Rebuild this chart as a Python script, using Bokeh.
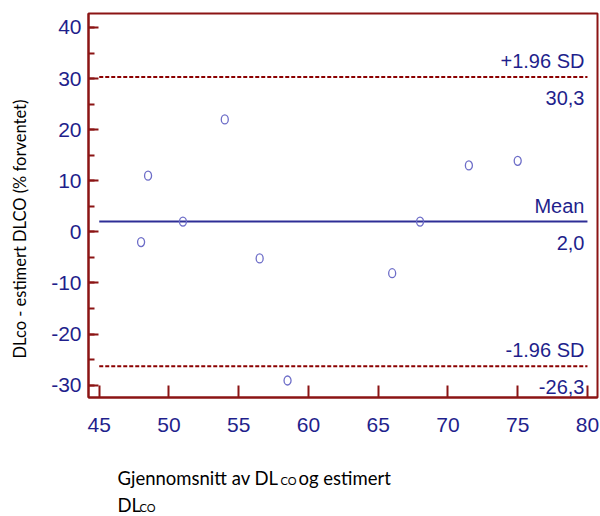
import math
from bokeh.plotting import figure
from bokeh.layouts import column, row
from bokeh.models import Range1d, SingleIntervalTicker, Label, PrintfTickFormatter
from bokeh.core.properties import value
from bokeh.embed import file_html
from bokeh.resources import INLINE

# ---- data ----
avg_vals = [48.0, 48.5, 51.0, 54.0, 56.5, 58.5, 66.0, 68.0, 71.5, 75.0]
diff_vals = [-2.0, 11.0, 2.0, 22.0, -5.2, -29.1, -8.1, 2.0, 13.0, 13.9]
mean_diff = 2.0
upper_loa = 30.3
lower_loa = -26.3
line_x = [45, 80]
x_ticks_interval = 5
y_ticks_interval = 10
y_title = "DLco - estimert DLCO (% forventet)"
x_title_parts = ["Gjennomsnitt av DL", "CO", "og estimert", "DL", "CO"]

AXIS_RED = "#8b1414"
NAVY = "#1f1f8c"
NUM_FONT = "Liberation Sans"
TXT_FONT = "Lato"

LEFT_W = 40
TOP_H = 440

# ---------------- main plot ----------------
p = figure(width=600 - LEFT_W, height=TOP_H, output_backend="svg", toolbar_location=None,
           x_range=Range1d(44.23, 80.72), y_range=Range1d(-32.43, 42.74),
           min_border_left=88 - LEFT_W, min_border_right=3, min_border_top=13,
           min_border_bottom=TOP_H - 397,
           background_fill_color="white", border_fill_color="white")

p.grid.visible = False
p.outline_line_color = AXIS_RED
p.outline_line_width = 2
p.outline_line_alpha = 1.0

p.xaxis.ticker = SingleIntervalTicker(interval=x_ticks_interval, num_minor_ticks=0)
p.yaxis.ticker = SingleIntervalTicker(interval=y_ticks_interval, num_minor_ticks=2)
for ax in (p.xaxis[0], p.yaxis[0]):
    ax.formatter = PrintfTickFormatter(format="%d")
    ax.axis_line_color = AXIS_RED
    ax.axis_line_width = 2
    ax.major_tick_line_color = AXIS_RED
    ax.major_tick_line_width = 2
    ax.minor_tick_line_color = AXIS_RED
    ax.minor_tick_line_width = 2
    ax.major_tick_out = 0
    ax.minor_tick_out = 0
    ax.major_label_text_color = NAVY
    ax.major_label_text_font = NUM_FONT
    ax.major_label_text_font_size = "21px"
p.xaxis.major_tick_in = 12
p.xaxis.minor_tick_in = 0
p.yaxis.major_tick_in = 10
p.yaxis.minor_tick_in = 6
p.xaxis.major_label_standoff = 20
p.yaxis.major_label_standoff = 7

# limit lines
p.line(line_x, [upper_loa, upper_loa], line_color="#8b0000", line_width=2, line_dash="4 2")
p.line(line_x, [lower_loa, lower_loa], line_color="#8b0000", line_width=2, line_dash="4 2")
p.line(line_x, [mean_diff, mean_diff], line_color="#2e2e96", line_width=2)

# points
p.ellipse(avg_vals, diff_vals, width=7, height=9, width_units="screen", height_units="screen",
          fill_alpha=0, line_color="#6e6ec8", line_width=1.3)

def fmt(v):
    return f"{v:.1f}".replace(".", ",")

for above, val in (("+1.96 SD", upper_loa), ("Mean", mean_diff), ("-1.96 SD", lower_loa)):
    p.add_layout(Label(x=line_x[1], y=val, x_offset=-3, y_offset=16, text=above,
                       text_align="right", text_baseline="alphabetic",
                       text_font=NUM_FONT, text_font_size="20px", text_color=NAVY))
    p.add_layout(Label(x=line_x[1], y=val, x_offset=-3, y_offset=-21, text=fmt(val),
                       text_align="right", text_baseline="alphabetic",
                       text_font=NUM_FONT, text_font_size="20px", text_color=NAVY))

# ---------------- y title panel ----------------
def blank_fig(w, h):
    f = figure(width=w, height=h, output_backend="svg", toolbar_location=None,
               x_range=Range1d(0, w), y_range=Range1d(h, 0),
               x_axis_type=None, y_axis_type=None, min_border=0,
               background_fill_color="white", border_fill_color="white")
    f.grid.visible = False
    f.outline_line_color = None
    return f

yf = blank_fig(LEFT_W, TOP_H)
yf.text(x=[19], y=[247], text=[y_title], angle=math.pi / 2, text_align="center",
        text_baseline="middle", text_font=value(TXT_FONT), text_font_size="16.5px",
        text_color="black")

# ---------------- x title panel ----------------
BOT_H = 516 - TOP_H
xf = blank_fig(600, BOT_H)
xs = [117, 280, 298, 117, 139]
ys = [477, 479.5, 477, 504, 506.5]
sizes = ["18.5px", "11px", "18.5px", "18.5px", "11px"]
for t, xx, yy, sz in zip(x_title_parts, xs, ys, sizes):
    xf.text(x=[xx], y=[yy - TOP_H], text=[t], text_align="left", text_baseline="alphabetic",
            text_font=value(TXT_FONT), text_font_size=sz, text_color="black")

layout = column(row(yf, p, spacing=0), xf, spacing=0)
open("out.html", "w").write(file_html(layout, INLINE))
